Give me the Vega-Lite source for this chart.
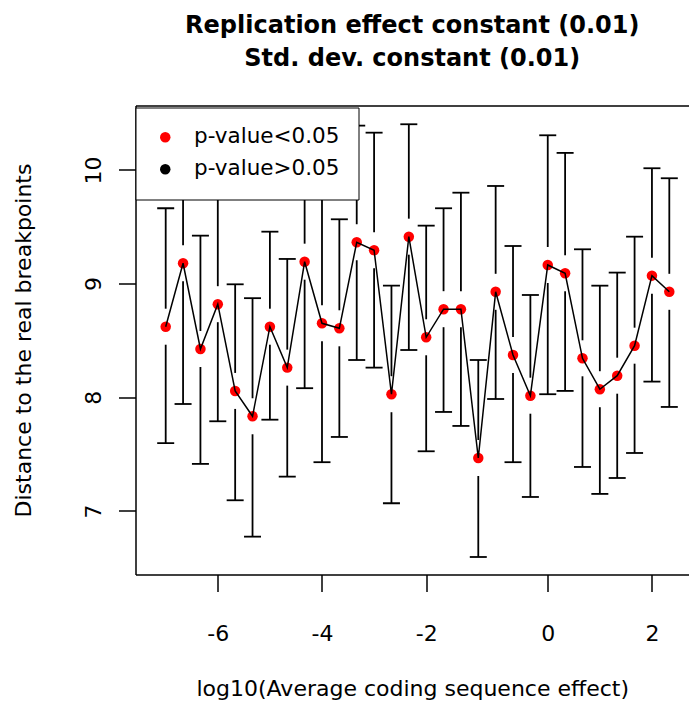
{
  "$schema": "https://vega.github.io/schema/vega-lite/v6.json",
  "autosize": {"type": "none"},
  "padding": {"left": 135.5, "top": 105.5, "right": 0, "bottom": 131.5},
  "width": 553.5,
  "height": 469,
  "background": "white",
  "view": {"stroke": null},
  "title": {
    "text": ["Replication effect constant (0.01)", "Std. dev. constant (0.01)"],
    "font": "DejaVu Sans",
    "fontSize": 24,
    "fontWeight": "bold",
    "color": "black",
    "lineHeight": 33.3,
    "anchor": "middle",
    "baseline": "bottom",
    "offset": 10.5,
    "frame": "group"
  },
  "data": {
    "values": [
      {"i": 1, "m": 8.621, "lo": 7.596, "hi": 9.663, "p": "p-value<0.05"},
      {"i": 2, "m": 9.179, "lo": 7.941, "hi": 10.417, "p": "p-value<0.05"},
      {"i": 3, "m": 8.425, "lo": 7.414, "hi": 9.422, "p": "p-value<0.05"},
      {"i": 4, "m": 8.819, "lo": 7.789, "hi": 9.849, "p": "p-value<0.05"},
      {"i": 5, "m": 8.056, "lo": 7.094, "hi": 8.994, "p": "p-value<0.05"},
      {"i": 6, "m": 7.833, "lo": 6.774, "hi": 8.872, "p": "p-value<0.05"},
      {"i": 7, "m": 8.621, "lo": 7.803, "hi": 9.457, "p": "p-value<0.05"},
      {"i": 8, "m": 8.261, "lo": 7.302, "hi": 9.217, "p": "p-value<0.05"},
      {"i": 9, "m": 9.193, "lo": 8.080, "hi": 10.307, "p": "p-value<0.05"},
      {"i": 10, "m": 8.651, "lo": 7.429, "hi": 9.874, "p": "p-value<0.05"},
      {"i": 11, "m": 8.607, "lo": 7.651, "hi": 9.566, "p": "p-value<0.05"},
      {"i": 12, "m": 9.364, "lo": 8.328, "hi": 10.390, "p": "p-value<0.05"},
      {"i": 13, "m": 9.294, "lo": 8.261, "hi": 10.328, "p": "p-value<0.05"},
      {"i": 14, "m": 8.027, "lo": 7.068, "hi": 8.982, "p": "p-value<0.05"},
      {"i": 15, "m": 9.413, "lo": 8.416, "hi": 10.402, "p": "p-value<0.05"},
      {"i": 16, "m": 8.528, "lo": 7.525, "hi": 9.510, "p": "p-value<0.05"},
      {"i": 17, "m": 8.775, "lo": 7.871, "hi": 9.663, "p": "p-value<0.05"},
      {"i": 18, "m": 8.775, "lo": 7.748, "hi": 9.800, "p": "p-value<0.05"},
      {"i": 19, "m": 7.466, "lo": 6.595, "hi": 8.328, "p": "p-value<0.05"},
      {"i": 20, "m": 8.928, "lo": 7.985, "hi": 9.859, "p": "p-value<0.05"},
      {"i": 21, "m": 8.372, "lo": 7.429, "hi": 9.331, "p": "p-value<0.05"},
      {"i": 22, "m": 8.014, "lo": 7.123, "hi": 8.900, "p": "p-value<0.05"},
      {"i": 23, "m": 9.164, "lo": 8.027, "hi": 10.305, "p": "p-value<0.05"},
      {"i": 24, "m": 9.091, "lo": 8.056, "hi": 10.150, "p": "p-value<0.05"},
      {"i": 25, "m": 8.343, "lo": 7.387, "hi": 9.302, "p": "p-value<0.05"},
      {"i": 26, "m": 8.071, "lo": 7.150, "hi": 8.982, "p": "p-value<0.05"},
      {"i": 27, "m": 8.190, "lo": 7.290, "hi": 9.097, "p": "p-value<0.05"},
      {"i": 28, "m": 8.454, "lo": 7.510, "hi": 9.413, "p": "p-value<0.05"},
      {"i": 29, "m": 9.070, "lo": 8.138, "hi": 10.015, "p": "p-value<0.05"},
      {"i": 30, "m": 8.928, "lo": 7.915, "hi": 9.927, "p": "p-value<0.05"}
    ]
  },
  "encoding": {
    "x": {"field": "i", "type": "quantitative", "scale": {"domain": [-0.739, 31.134], "nice": false, "zero": false}, "axis": null},
    "y": {"field": "m", "type": "quantitative", "scale": {"domain": [6.441, 10.567], "nice": false, "zero": false},
      "axis": {"values": [7, 8, 9, 10], "format": "d", "title": "Distance to the real breakpoints", "labelAngle": -90, "labelAlign": "center", "labelBaseline": "alphabetic", "labelPadding": 18, "titleAngle": -90, "titleAlign": "center", "titleBaseline": "alphabetic", "titleX": -105.5, "titleY": 234.5}}
  },
  "layer": [
    {
      "mark": {"type": "rule", "color": "black", "strokeWidth": 1.8, "yOffset": -18},
      "encoding": {"y2": {"field": "hi"}}
    },
    {
      "mark": {"type": "rule", "color": "black", "strokeWidth": 1.8, "yOffset": 18},
      "encoding": {"y2": {"field": "lo"}}
    },
    {
      "mark": {"type": "tick", "orient": "horizontal", "size": 17, "thickness": 1.8, "color": "black", "opacity": 1},
      "encoding": {
        "y": {"field": "hi", "type": "quantitative", "scale": {"domain": [6.441, 10.567], "nice": false, "zero": false},
          "axis": {"values": [7, 8, 9, 10], "format": "d", "title": "Distance to the real breakpoints", "labelAngle": -90, "labelAlign": "center", "labelBaseline": "alphabetic", "labelPadding": 18, "titleAngle": -90, "titleAlign": "center", "titleBaseline": "alphabetic", "titleX": -105.5, "titleY": 234.5}}
      }
    },
    {
      "mark": {"type": "tick", "orient": "horizontal", "size": 17, "thickness": 1.8, "color": "black", "opacity": 1},
      "encoding": {
        "y": {"field": "lo", "type": "quantitative", "scale": {"domain": [6.441, 10.567], "nice": false, "zero": false},
          "axis": {"values": [7, 8, 9, 10], "format": "d", "title": "Distance to the real breakpoints", "labelAngle": -90, "labelAlign": "center", "labelBaseline": "alphabetic", "labelPadding": 18, "titleAngle": -90, "titleAlign": "center", "titleBaseline": "alphabetic", "titleX": -105.5, "titleY": 234.5}}
      }
    },
    {
      "mark": {"type": "point", "shape": "circle", "filled": true, "size": 110, "opacity": 1, "strokeWidth": 0},
      "encoding": {
        "x": {"field": "i", "type": "quantitative", "scale": {"domain": [-0.739, 31.134], "nice": false, "zero": false},
          "axis": {"orient": "top", "labels": false, "ticks": false, "domain": true, "title": null}},
        "fill": {"field": "p", "type": "nominal",
          "scale": {"domain": ["p-value<0.05", "p-value>0.05"], "range": ["#ff0000", "#000000"]},
          "legend": {"orient": "none", "legendX": 0, "legendY": 2, "title": null, "strokeColor": "black", "fillColor": "white", "padding": 19, "symbolType": "circle", "symbolSize": 110, "symbolStrokeWidth": 0, "labelFont": "DejaVu Sans", "labelFontSize": 21.5, "labelColor": "black", "labelOffset": 18, "rowPadding": 9, "labelLimit": 400}}
      }
    },
    {
      "mark": {"type": "line", "color": "black", "strokeWidth": 1.5},
      "encoding": {
        "x": {"field": "i", "type": "quantitative", "scale": {"domain": [-0.739, 31.134], "nice": false, "zero": false},
          "axis": {"orient": "bottom", "values": [4, 10, 16, 23, 29],
            "labelExpr": "datum.value == 4 ? '-6' : datum.value == 10 ? '-4' : datum.value == 16 ? '-2' : datum.value == 23 ? '0' : '2'",
            "title": "log10(Average coding sequence effect)", "labelBaseline": "alphabetic", "labelAlign": "center", "labelPadding": 49, "titleBaseline": "alphabetic", "titleY": 120.5}}
      }
    }
  ],
  "resolve": {"axis": {"x": "independent"}},
  "config": {
    "axis": {
      "labelFont": "DejaVu Sans", "labelFontSize": 22, "labelColor": "black",
      "titleFont": "DejaVu Sans", "titleFontSize": 22, "titleFontWeight": "normal", "titleColor": "black",
      "domainColor": "black", "domainWidth": 1.5, "tickColor": "black", "tickWidth": 1.5, "tickSize": 17,
      "grid": false, "labelFlush": false, "labelOverlap": false
    }
  }
}
